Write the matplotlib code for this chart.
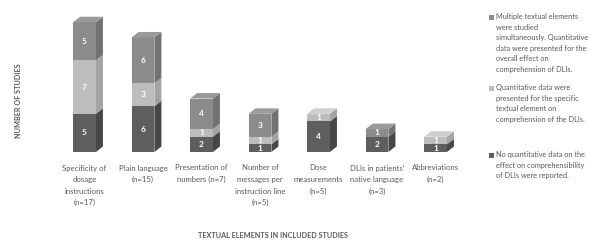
import matplotlib
matplotlib.use("Agg")
import matplotlib.pyplot as plt
from matplotlib.patches import Polygon
import numpy as np

plt.rcParams['font.family'] = ['Lato', 'DejaVu Sans']

categories = [
    "Specificity of\ndosage\ninstructions\n(n=17)",
    "Plain language\n(n=15)",
    "Presentation of\nnumbers (n=7)",
    "Number of\nmessages per\ninstruction line\n(n=5)",
    "Dose\nmeasurements\n(n=5)",
    "DLIs in patients'\nnative language\n(n=3)",
    "Abbreviations\n(n=2)",
]
no_quant = [5, 6, 2, 1, 4, 2, 1]
specific = [7, 3, 1, 1, 1, 0, 1]
multiple = [5, 6, 4, 3, 0, 1, 0]

series_names = [
    "No quantitative data on the\neffect on comprehensibility\nof DLIs were reported.",
    "Quantitative data were\npresented for the specific\ntextual element on\ncomprehension of the DLIs.",
    "Multiple textual elements\nwere studied\nsimultaneously. Quantitative\ndata were presented for the\noverall effect on\ncomprehension of DLIs.",
]
series = [no_quant, specific, multiple]
front_colors = ["#5e5e5e", "#bdbdbd", "#8b8b8b"]
side_colors = ["#474747", "#a3a3a3", "#727272"]
top_colors = ["#6e6e6e", "#cfcfcf", "#9a9a9a"]
text_gray = "#5a5a5a"

W, H = 589, 241
fig = plt.figure(figsize=(W / 100, H / 100), dpi=100)
ax_left, ax_right = 55.25, 464.75
ax_bottom, ax_top = 89, 231
ax = fig.add_axes([ax_left / W, ax_bottom / H, (ax_right - ax_left) / W, (ax_top - ax_bottom) / H])
ax.set_xlim(-0.5, 6.5)
ax.set_ylim(0, 18.6)
ax.axis("off")

x = np.arange(len(categories))
w = 0.39
dx = 0.12
dy = 0.72

bottoms = np.zeros(len(categories))
for s, vals in enumerate(series):
    vals = np.array(vals, dtype=float)
    for i in range(len(x)):
        if vals[i] <= 0:
            continue
        y0 = bottoms[i]
        y1 = y0 + vals[i]
        xr = x[i] + w / 2
        side = Polygon([(xr, y0), (xr + dx, y0 + dy), (xr + dx, y1 + dy), (xr, y1)],
                       closed=True, facecolor=side_colors[s], edgecolor="none", zorder=2)
        ax.add_patch(side)
    ax.bar(x, vals, w, bottom=bottoms, color=front_colors[s], edgecolor="none", zorder=3)
    for i in range(len(x)):
        if vals[i] > 0:
            ax.text(x[i], bottoms[i] + vals[i] / 2, f"{int(vals[i])}", ha="center", va="center",
                    color="white", fontsize=6, fontweight="bold", zorder=5)
    bottoms = bottoms + vals

# top faces
totals = bottoms
for i in range(len(x)):
    top_s = max(s for s in range(3) if series[s][i] > 0)
    xl, xr, t = x[i] - w / 2, x[i] + w / 2, totals[i]
    top = Polygon([(xl, t), (xl + dx, t + dy), (xr + dx, t + dy), (xr, t)],
                  closed=True, facecolor=top_colors[top_s], edgecolor="none", zorder=4)
    ax.add_patch(top)

# category labels
for i, lab in enumerate(categories):
    ax.annotate(lab, xy=(x[i], 0), xytext=(0, -9), textcoords="offset points",
                ha="center", va="top", fontsize=5.6, color=text_gray, linespacing=1.75,
                annotation_clip=False)

fig.text(18.5 / W, 1 - 101 / H, "NUMBER OF STUDIES", rotation=90, ha="center", va="center",
         fontsize=5.2, color=text_gray, fontweight="bold")
fig.text(273 / W, 1 - 236 / H, "TEXTUAL ELEMENTS IN INCLUDED STUDIES", ha="center", va="center",
         fontsize=5.2, color=text_gray, fontweight="bold")

# legend
legend_order = [2, 1, 0]
legend_tops = [13, 84, 151]
for s, ytop in zip(legend_order, legend_tops):
    fig.patches.append(plt.Rectangle((489 / W, 1 - (ytop + 7) / H), 5 / W, 5 / H,
                                     transform=fig.transFigure, facecolor=front_colors[s],
                                     edgecolor="none"))
    fig.text(496 / W, 1 - ytop / H, series_names[s], ha="left", va="top",
             fontsize=5.3, color=text_gray, linespacing=1.6)

fig.savefig("out.png", dpi=100, facecolor="white")
